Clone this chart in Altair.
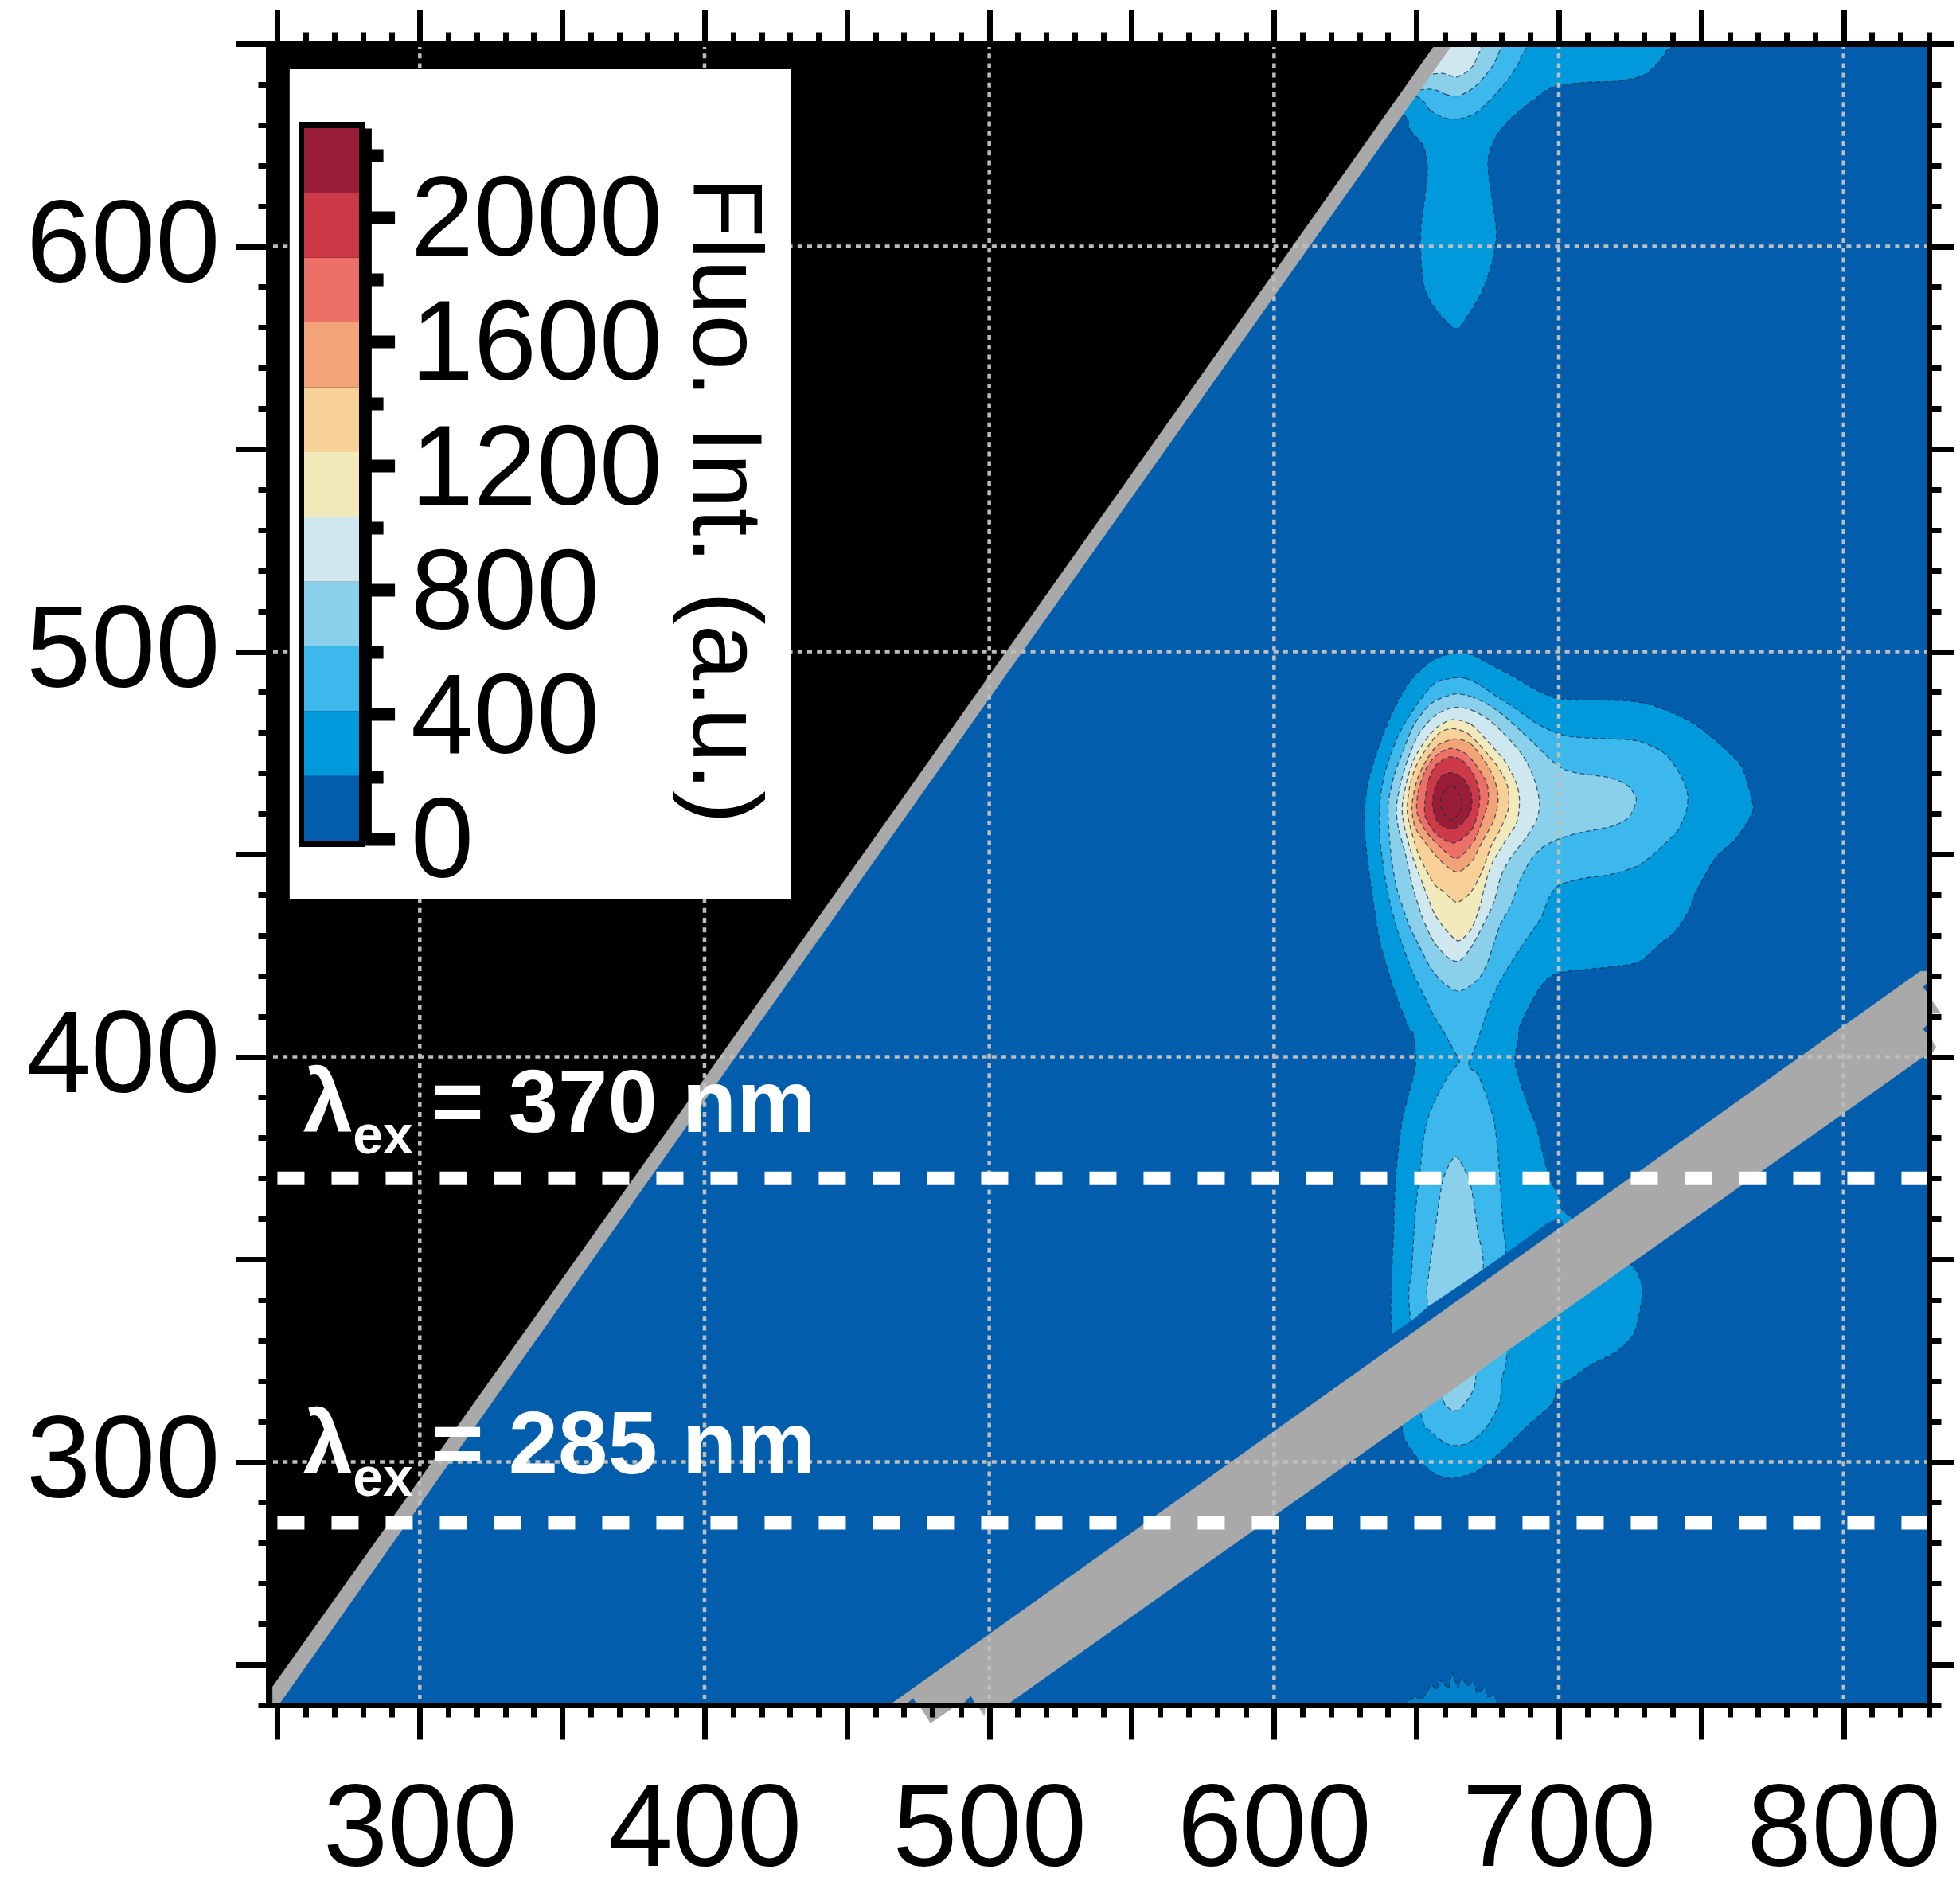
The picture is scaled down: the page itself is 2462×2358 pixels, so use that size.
import altair as alt
import pandas as pd

FONT = "Liberation Sans"
EM_MIN, EM_MAX = 246.8, 830
EX_MIN, EX_MAX = 240, 650
BASE_BLUE = "#025EAC"
LEVEL_COLORS = ["#025EAC", "#0099DC", "#3CB8EC", "#8AD0EB", "#CFE8F0", "#F2EABB",
                "#F7D197", "#F2A378", "#EC7067", "#CC3A47", "#991D36"]
COLORBAR_EDGES = [-6, 202, 411, 619, 827, 1036, 1244, 1452, 1661, 1869, 2077, 2286]
COLORBAR_TICKS = [0, 200, 400, 600, 800, 1000, 1200, 1400, 1600, 1800, 2000, 2200]
EM_TICKS = list(range(250, 831, 10))
EX_TICKS = list(range(240, 651, 10))
GRID_EM = [300, 400, 500, 600, 700, 800]
GRID_EX = [300, 400, 500, 600]
EXCITATION = [370, 285]

L1_MAIN = [(664.7,499.8),(670.2,499.0),(676.2,496.7),(684.2,493.8),(692.2,490.5),(700.0,488.4),(712.2,488.1),
 (726.2,487.7),(735.2,486.2),(747.2,482.3),(757.2,476.7),(764.2,471.5),(768.2,462.3),(767.2,459.1),(762.2,453.8),
 (755.2,449.2),(748.2,440.7),(745.7,436.1),(741.2,431.2),(735.2,427.6),(728.2,423.4),(717.2,422.1),(700.0,420.7),
 (694.2,417.8),(690.2,413.2),(686.2,407.3),(685.9,405.4),(684.6,399.4),(685.6,395.6),(688.4,389.6),(692.1,382.8),
 (694.4,376.1),(696.8,370.1),(700.0,365.5),(701.9,361.8),(724.7,349.0),(728.4,345.2),(729.4,341.5),(726.6,332.1),
 (720.1,327.2),(710.7,323.8),(704.2,320.4),(699.6,318.9),(697.7,314.4),(689.3,309.1),(680.0,302.7),(670.7,297.5),
 (661.3,296.0),(654.8,297.9),(648.8,302.4),(645.0,308.4),(641.3,332.1),(641.3,345.2),(642.0,356.5),(642.5,367.8),
 (643.6,376.8),(645.0,384.3),(647.4,391.1),(649.7,397.9),(649.0,405.4),(647.2,407.3),(642.2,416.5),(637.2,428.3),
 (634.2,441.4),(632.2,452.5),(631.7,460.4),(633.2,468.2),(637.2,477.4),(642.2,485.9),(648.2,493.1),(656.2,498.0)]
L1_TOP = [(645.5,632.3),(647.8,628.7),(652.5,624.7),(653.9,618.8),(653.0,612.3),(651.6,604.4),(651.6,597.2),
 (652.5,590.7),(655.3,586.1),(659.5,582.2),(664.2,579.6),(667.9,582.8),(672.5,588.1),(676.3,595.3),(678.1,603.1),
 (676.7,611.0),(675.3,618.2),(675.3,622.1),(678.1,627.4),(683.7,631.9),(691.2,636.2),(696.3,638.8),(700.5,639.8),
 (709.8,640.5),(721.0,640.8),(729.4,642.1),(734.0,644.7),(737.8,648.3),(739.6,652),(650,652),(630,632)]
L1_FOOT = [(645.5,240),(649.3,242.0),(652.0,241.4),(655.3,245.0),(657.2,243.7),(658.1,246.3),(661.4,244.0),
 (662.3,248.2),(664.6,244.3),(666.0,246.9),(667.9,244.6),(670.2,246.0),(671.2,243.0),(674.4,244.3),(674.9,242.0),
 (677.7,242.3),(678.1,240)]
L2_MAIN = [(662.2,493.4),(667.2,493.4),(672.2,491.8),(678.2,488.9),(684.2,486.2),(692.2,482.3),(700.0,479.7),
 (707.2,478.8),(725.2,478.2),(731.2,477.1),(737.2,474.8),(742.2,470.2),(745.2,465.0),(744.7,460.4),(741.7,455.8),
 (736.2,451.9),(728.2,447.3),(718.2,445.0),(708.2,444.0),(700.2,442.4),(696.7,439.4),(693.7,434.2),(689.2,429.6),
 (684.2,424.3),(679.2,418.4),(675.2,411.9),(671.2,403.4),(668.3,397.9),(671.6,395.6),(674.9,389.6),(677.2,384.3),
 (678.6,376.8),(679.5,367.8),(680.5,357.3),(681.4,351.6),(681.8,327.2),(680.0,320.4),(679.1,314.4),(674.4,308.4),
 (667.9,304.6),(661.3,304.3),(654.8,307.6),(651.6,312.1),(647.4,339.2),(648.3,346.7),(649.2,357.3),(650.2,365.5),
 (651.6,373.8),(652.5,379.8),(654.4,385.5),(657.1,390.0),(660.9,394.9),(664.1,397.9),(665.1,399.0),(661.7,403.4),
 (659.2,406.7),(656.2,410.0),(652.2,415.8),(648.2,421.7),(643.2,431.6),(639.7,441.4),(637.2,453.8),(637.2,463.0),
 (639.2,470.8),(643.7,479.4),(649.2,485.9),(656.2,492.1)]
L2_TOP = [(650.2,636.9),(654.8,633.6),(660.4,631.6),(666.0,631.6),(671.6,633.3),(678.1,637.8),(682.8,641.8),
 (686.5,646.3),(687.2,652),(650,652),(635,637)]
L3_MAIN = [(663.2,489.5),(669.2,488.9),(675.2,486.9),(681.2,483.9),(686.2,480.7),(692.2,476.7),(699.7,471.8),
 (705.2,470.2),(715.2,469.2),(719.2,468.6),(724.2,466.9),(727.2,463.6),(725.2,459.7),(722.7,458.1),(718.2,456.8),
 (711.2,455.8),(706.2,455.1),(700.2,453.8),(694.7,451.9),(690.2,448.6),(686.2,443.3),(683.2,437.4),(679.2,432.2),
 (675.2,423.7),(671.7,419.1),(665.2,416.2),(659.7,418.1),(655.2,421.7),(651.2,427.0),(647.2,432.9),(643.2,441.4),
 (641.2,449.2),(640.2,457.7),(640.2,463.0),(642.2,469.5),(645.7,476.1),(649.2,482.0),(655.2,487.2)]
L3_LOW = [(664.1,375.3),(668.3,370.1),(670.2,364.0),(671.6,356.5),(673.5,348.2),(671.1,322.7),(669.7,317.4),
 (665.1,312.9),(661.3,313.3),(659.0,316.7),(653.9,339.2),(654.4,346.7),(656.7,358.0),(659.0,368.6),(661.3,373.1)]
L3_TOP = [(655.3,638.8),(660.4,637.5),(665.1,637.2),(670.7,639.5),(675.3,643.1),(678.1,646.4),(678.9,652),(655,652),(640,639)]
L4_MAIN = [(663.2,486.2),(669.2,485.6),(675.2,483.3),(681.2,479.4),(687.2,474.5),(691.2,468.9),(693.2,463.0),
 (692.2,458.4),(688.2,453.8),(683.2,449.2),(679.7,444.6),(677.2,438.1),(673.2,432.2),(669.2,427.0),(665.2,423.7),
 (661.2,424.4),(656.2,428.3),(652.2,434.2),(648.7,442.0),(646.2,449.9),(643.7,456.4),(643.0,461.7),(644.7,468.2),
 (647.7,474.8),(651.2,480.0),(656.7,484.3)]
L4_TOP = [(659.0,642.7),(664.1,641.8),(668.8,643.7),(671.1,646.4),(672.3,652),(650,652),(645,642.7)]
L5_MAIN = [(662.7,483.2),(669.2,482.0),(675.2,477.7),(681.2,472.8),(685.2,467.3),(686.2,463.0),(685.2,457.7),
 (681.2,453.2),(676.7,447.9),(674.2,442.7),(672.2,436.8),(669.2,431.5),(664.7,428.6),(660.2,431.5),(656.2,435.5),
 (652.2,442.7),(648.4,449.9),(645.7,457.1),(645.0,461.7),(646.7,468.2),(649.2,473.5),(653.2,478.1),(657.2,481.3)]
L6_MAIN = [(662.7,481.0),(668.2,479.7),(674.2,475.4),(679.2,470.9),(682.2,466.3),(682.2,461.0),(679.2,455.8),
 (676.2,451.9),(673.2,446.0),(669.2,440.7),(664.2,438.1),(659.7,440.7),(656.2,442.7),(651.2,449.2),(648.7,454.5),
 (646.8,460.4),(647.7,466.9),(650.2,472.2),(654.2,476.7),(658.2,480.0)]
L7_MAIN = [(663.2,478.4),(668.7,477.4),(673.2,473.8),(677.2,468.9),(678.7,463.6),(677.2,458.4),(673.2,453.2),
 (669.2,447.9),(664.2,445.6),(659.2,447.9),(654.2,451.9),(649.7,456.4),(648.4,461.7),(650.2,468.2),(653.2,472.8),(657.2,476.7)]
L8_MAIN = [(662.2,476.1),(666.7,475.1),(670.7,472.2),(674.7,467.6),(675.2,463.0),(673.2,458.4),(670.2,453.2),
 (664.2,448.9),(658.2,451.9),(653.2,455.8),(650.2,460.4),(650.7,465.6),(653.7,471.5),(657.7,474.8)]
L9_MAIN = [(661.7,474.0),(666.2,473.1),(670.2,469.5),(672.2,465.0),(671.7,460.4),(669.2,455.8),(663.2,452.8),
 (657.2,454.8),(653.2,459.1),(653.0,463.0),(654.2,468.2),(657.2,472.2)]
L10_MAIN = [(662.2,470.1),(666.2,468.9),(669.2,465.0),(669.2,461.0),(666.2,457.7),(662.2,456.1),(657.7,457.7),
 (655.7,461.7),(656.2,465.6),(658.7,469.2)]
L10_CORE = [(662.7,467.2),(665.7,463.6),(665.7,461.0),(662.7,458.4),(659.2,460.4),(658.7,464.3)]
SLIVER = [(641.3,331.5),(649.2,335.3),(653.9,338.2),(673.5,347.5),(681.4,351.4),(695.8,358.8),(700.5,360.3),
 (702.3,357.3),(641.3,327.2)]

BLACK_AREA = [(EM_MIN,240),(248.3,240),(248.3,244.5),(410.9,405.4),(656.8,650),(EM_MIN,650)]
DIAGONAL = [(248.3,240),(250.4,240),(416.3,405.4),(662.8,650),(656.8,650),(410.9,405.4),(248.3,244.5)]
BAND = [(465,240),(506,240),(827.8,399.9),(830,399.9),(830,421.1),(827,421.1)]
BAND_NOTCH_A = [(471.2,240.4),(473.2,241.6),(474.3,240.4)]
BAND_NOTCH_B = [(490.8,240.2),(493.5,242.2),(495,240.2)]
BAND_NOTCH_C = [(828.0,417.2),(829.6,418.4),(829.6,415.8)]
BAND_NOTCH_D = [(828.0,406.8),(829.6,408.0),(829.6,405.6)]
BAND_TIP_A = [(476,239.3),(479.4,235.6),(487.2,239.3)]
BAND_TIP_B = [(496.4,239.3),(498.3,237.4),(498.6,239.3)]
BAND_TIP_C = [(831.1,413.8),(834.2,410.7),(831.1,410.7)]
BAND_TIP_D = [(831.1,404.0),(832.5,402.3),(831.1,401.0)]
LEGEND_BOX = [254.3, 430.2, 438.8, 643.7]

XS = alt.Scale(domain=[EM_MIN, EM_MAX], nice=False, zero=False)
YS = alt.Scale(domain=[EX_MIN, EX_MAX], nice=False, zero=False)
X = lambda **k: alt.X("em:Q", scale=XS, title=None, **k)
Y = lambda **k: alt.Y("ex:Q", scale=YS, title=None, **k)


def table(points):
    return pd.DataFrame([{"em": a, "ex": b, "i": n} for n, (a, b) in enumerate(points)])


def contour(points, color, interpolate="cardinal-closed", fill_opacity=1):
    return alt.Chart(table(points)).mark_line(
        interpolate=interpolate, tension=0.2, fill=color, fillOpacity=fill_opacity, stroke="#1B2F4A",
        strokeWidth=1.3, strokeDash=[6, 4], strokeOpacity=0.75, clip=True,
    ).encode(x=X(axis=None), y=Y(axis=None), order=alt.Order("i:Q"))


def polygon(points, color, clip=True):
    return alt.Chart(table(points)).mark_line(
        interpolate="linear-closed", fill=color, stroke=color, strokeWidth=0.5, clip=clip,
    ).encode(x=X(axis=None), y=Y(axis=None), order=alt.Order("i:Q"))


LINES = dict(
    domainColor="black", domainWidth=7, domainCap="square", tickColor="black", tickWidth=7,
    grid=False, zindex=1, title=None,
)
LABELS = dict(labelFont=FONT, labelFontSize=146, labelColor="black", labelOverlap=False, labelFlush=False,
              labelBound=False, labelLimit=1000)
size_x = {"condition": {"test": "datum.value % 50 === 0", "value": 43}, "value": 15}
size_y = {"condition": {"test": "datum.value % 50 === 0", "value": 41}, "value": 13}
label_hundreds = "datum.value % 100 === 0 ? '' + datum.value : ''"

background = alt.Chart(pd.DataFrame({"em": [EM_MIN], "em2": [EM_MAX], "ex": [EX_MIN], "ex2": [EX_MAX]})).mark_rect(
    color=BASE_BLUE
).encode(x=X(axis=None), x2="em2:Q", y=Y(axis=None), y2="ex2:Q")

levels = [
    (L1_MAIN, 1), (L1_TOP, 1), (L2_MAIN, 2), (L2_TOP, 2), (L3_MAIN, 3), (L3_LOW, 3), (L3_TOP, 3),
    (L4_MAIN, 4), (L4_TOP, 4), (L5_MAIN, 5), (L6_MAIN, 6), (L7_MAIN, 7), (L8_MAIN, 8), (L9_MAIN, 9),
    (L10_MAIN, 10), (L10_CORE, 10),
]
contours = [contour(p, LEVEL_COLORS[c]) for p, c in levels]
contours.append(contour(L1_FOOT, LEVEL_COLORS[1], interpolate="linear-closed", fill_opacity=0.6))

GRAY = "#A9A9A9"
masks = [
    polygon(SLIVER, BASE_BLUE),
    polygon(BLACK_AREA, "black"),
    polygon(DIAGONAL, GRAY),
    polygon(BAND, GRAY),
    polygon(BAND_NOTCH_A, BASE_BLUE),
    polygon(BAND_NOTCH_B, BASE_BLUE),
    polygon(BAND_NOTCH_C, BASE_BLUE),
    polygon(BAND_NOTCH_D, BASE_BLUE),
    polygon(BAND_TIP_A, GRAY, clip=False),
    polygon(BAND_TIP_B, GRAY, clip=False),
    polygon(BAND_TIP_C, GRAY, clip=False),
    polygon(BAND_TIP_D, GRAY, clip=False),
]

grid_style = dict(color="#BDBDBD", strokeWidth=4.5, strokeDash=[6, 6.2])
grid_v = alt.Chart(pd.DataFrame({"em": GRID_EM})).mark_rule(**grid_style).encode(x=X(axis=None))
grid_h = alt.Chart(pd.DataFrame({"ex": GRID_EX})).mark_rule(**grid_style).encode(y=Y(axis=None))

white_dash = alt.Chart(pd.DataFrame({"ex": EXCITATION, "em": [250, 250], "em2": [830, 830]})).mark_rule(
    color="white", strokeWidth=17, strokeDash=[34, 34]
).encode(x=X(axis=None), x2="em2:Q", y=Y(axis=None))


def label(text, em, ex, size, angle=0, color="white", bold=True):
    return alt.Chart(pd.DataFrame({"em": [em], "ex": [ex], "t": [text]})).mark_text(
        font=FONT, fontSize=size, fontWeight="bold" if bold else "normal", color=color, align="left",
        baseline="alphabetic", angle=angle,
    ).encode(x=X(axis=None), y=Y(axis=None), text="t:N")


texts = [
    label("\u03bb", 259.0, 381.5, 112), label("ex", 276.5, 376.1, 68), label("= 370 nm", 304.2, 381.5, 112),
    label("\u03bb", 259.0, 297.1, 112), label("ex", 276.5, 291.7, 68), label("= 285 nm", 304.2, 297.1, 112),
]

box = alt.Chart(pd.DataFrame({"em": [LEGEND_BOX[0]], "em2": [LEGEND_BOX[1]], "ex": [LEGEND_BOX[2]],
                              "ex2": [LEGEND_BOX[3]]})).mark_rect(color="white").encode(
    x=X(axis=None), x2="em2:Q", y=Y(axis=None), y2="ex2:Q")
bar_title = label("Fluo. Int. (a.u.)", 396.1, 617.2, 125, angle=90, color="black", bold=False)

main = alt.layer(background, *contours, *masks, grid_v, grid_h, white_dash, *texts, box, bar_title)

anchor = pd.DataFrame({"em": [300], "ex": [300]})
frame_low = alt.Chart(anchor).mark_point(opacity=0).encode(
    x=X(axis=alt.Axis(orient="bottom", values=EM_TICKS, tickSize=size_x, labelExpr=label_hundreds,
                      labelPadding=43, **LABELS, **LINES)),
    y=Y(axis=alt.Axis(orient="left", values=EX_TICKS, tickSize=size_y, labelExpr=label_hundreds,
                      labelPadding=20, **LABELS, **LINES)),
)
frame_high = alt.Chart(anchor).mark_point(opacity=0).encode(
    x=X(axis=alt.Axis(orient="top", values=EM_TICKS, tickSize=size_x, labels=False, **LINES)),
    y=Y(axis=alt.Axis(orient="right", values=EX_TICKS, tickSize=size_x, labels=False, **LINES)),
)

bar = pd.DataFrame({"lo": COLORBAR_EDGES[:-1], "hi": COLORBAR_EDGES[1:], "c": LEVEL_COLORS})
BAR_SCALE = alt.Scale(domain=[COLORBAR_EDGES[0], COLORBAR_EDGES[-1]], range=[1001, 106], nice=False, zero=False)
bar_back = alt.Chart(pd.DataFrame({"a": [0]})).mark_rect(color="black").encode(
    x=alt.value(39), x2=alt.value(121), y=alt.value(98), y2=alt.value(1009))
bar_rects = alt.Chart(bar).mark_rect().encode(
    x=alt.value(45), x2=alt.value(114),
    y=alt.Y("lo:Q", scale=BAR_SCALE, title=None, axis=alt.Axis(
        orient="right", offset=-1964.4, values=COLORBAR_TICKS,
        tickSize={"condition": {"test": "datum.value % 400 === 0", "value": 37}, "value": 22.5},
        tickWidth=16, tickColor="black", domainColor="black", domainWidth=15.6,
        labelExpr="datum.value % 400 === 0 ? '' + datum.value : ''", labelFont=FONT, labelFontSize=142,
        labelColor="black", labelAlign="left", labelPadding=20, labelOffset=5, labelOverlap=False, labelFlush=False,
        labelBound=False, labelLimit=1000, grid=False, zindex=1, title=None)),
    y2="hi:Q",
    fill=alt.Fill("c:N", scale=None),
)
legend = alt.layer(bar_back, bar_rects)

chart = alt.layer(main, frame_low, frame_high, legend).resolve_scale(x="independent", y="independent").properties(
    width=2086, height=2087, padding={"left": 329, "top": 47, "right": 31, "bottom": 205},
    autosize=alt.AutoSizeParams(type="none"), background="white",
).configure_view(stroke=None)

chart.save("out.html", embed_options={"renderer": "svg", "actions": False})
